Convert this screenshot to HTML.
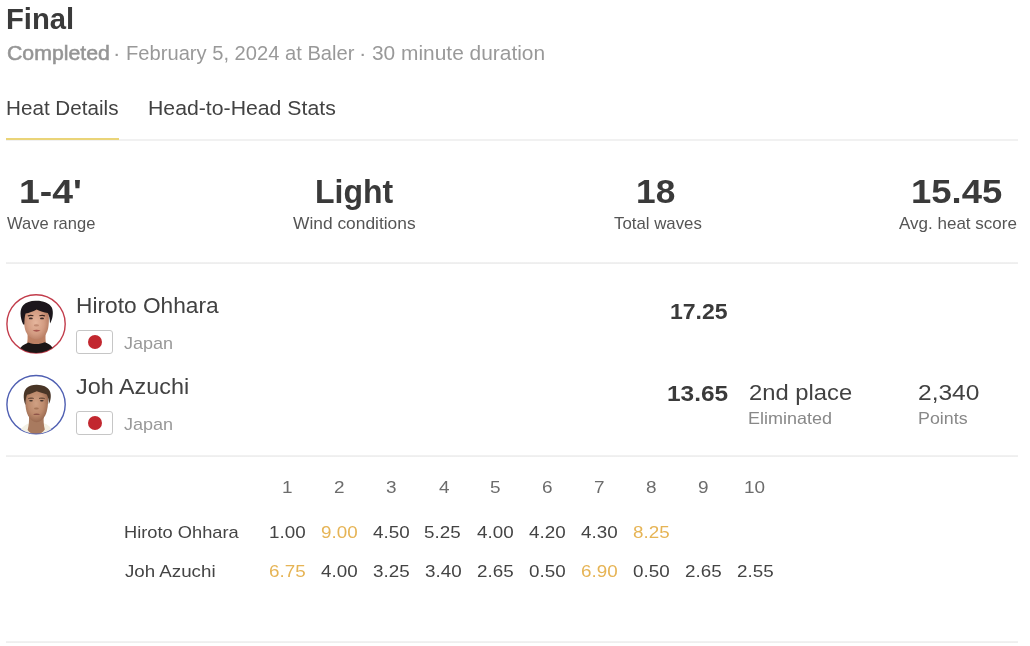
<!DOCTYPE html>
<html><head><meta charset="utf-8"><title>Final</title>
<style>
*{box-sizing:border-box;margin:0;padding:0}
html,body{width:1030px;height:646px;background:#fff;overflow:hidden}
body{font-family:"Liberation Sans",sans-serif;color:#333;position:relative}
.t{position:absolute;white-space:nowrap;line-height:normal;transform-origin:0 50%}
.line{position:absolute;height:2px;background:linear-gradient(#f2f2f2,#ededed);left:6px;width:1012px}
.flag{position:absolute;left:76px;width:37px;height:24px;border:1px solid #c6c6c6;border-radius:3px;background:#fff}
.flag i{position:absolute;left:10.6px;top:4.1px;width:14px;height:14px;border-radius:50%;background:#c2272f}
</style></head><body>
<div class="t" id="title" style="left:6.16px;top:3.36px;font-size:29.00px;font-weight:bold;color:#3a3a3a;transform:scaleX(1.0084)">Final</div>
<div class="t" id="sub1" style="left:6.95px;top:41.05px;font-size:20.50px;font-weight:normal;color:#959595;transform:scaleX(1.0371);-webkit-text-stroke:0.55px #959595">Completed</div>
<div class="t" id="sub2" style="left:112.57px;top:41.05px;font-size:20.50px;font-weight:normal;color:#999;transform:scaleX(1.0800)">·</div>
<div class="t" id="sub3" style="left:125.60px;top:41.05px;font-size:20.50px;font-weight:normal;color:#999;transform:scaleX(0.9828)">February 5, 2024 at Baler</div>
<div class="t" id="sub4" style="left:359.47px;top:41.05px;font-size:20.50px;font-weight:normal;color:#999;transform:scaleX(1.0800)">·</div>
<div class="t" id="sub5" style="left:371.71px;top:41.05px;font-size:20.50px;font-weight:normal;color:#999;transform:scaleX(1.0193)">30 minute duration</div>
<div class="t" id="tab1" style="left:5.99px;top:96.05px;font-size:20.50px;font-weight:normal;color:#424242;transform:scaleX(1.0073)">Heat Details</div>
<div class="t" id="tab2" style="left:147.99px;top:96.05px;font-size:20.50px;font-weight:normal;color:#424242;transform:scaleX(1.0363)">Head-to-Head Stats</div>
<div class="t" id="s1v" style="left:18.65px;top:172.83px;font-size:33.00px;font-weight:bold;color:#3a3a3a;transform:scaleX(1.1316)">1-4'</div>
<div class="t" id="s1l" style="left:6.50px;top:213.76px;font-size:16.40px;font-weight:normal;color:#555;transform:scaleX(1.0063)">Wave range</div>
<div class="t" id="s2v" style="left:314.64px;top:174.37px;font-size:32.30px;font-weight:bold;color:#3a3a3a;transform:scaleX(0.9905)">Light</div>
<div class="t" id="s2l" style="left:292.99px;top:213.76px;font-size:16.40px;font-weight:normal;color:#555;transform:scaleX(1.0595)">Wind conditions</div>
<div class="t" id="s3v" style="left:636.47px;top:172.83px;font-size:33.00px;font-weight:bold;color:#3a3a3a;transform:scaleX(1.0694)">18</div>
<div class="t" id="s3l" style="left:614.02px;top:213.76px;font-size:16.40px;font-weight:normal;color:#555;transform:scaleX(1.0263)">Total waves</div>
<div class="t" id="s4v" style="left:911.36px;top:172.83px;font-size:33.00px;font-weight:bold;color:#3a3a3a;transform:scaleX(1.1041)">15.45</div>
<div class="t" id="s4l" style="left:899.43px;top:213.76px;font-size:16.40px;font-weight:normal;color:#555;transform:scaleX(1.0383)">Avg. heat score</div>
<div class="t" id="n1" style="left:76.03px;top:292.89px;font-size:22.55px;font-weight:normal;color:#424242;transform:scaleX(1.0073)">Hiroto Ohhara</div>
<div class="t" id="c1" style="left:123.89px;top:332.93px;font-size:17.42px;font-weight:normal;color:#999;transform:scaleX(1.0365)">Japan</div>
<div class="t" id="n2" style="left:76.49px;top:373.89px;font-size:22.55px;font-weight:normal;color:#424242;transform:scaleX(1.0373)">Joh Azuchi</div>
<div class="t" id="c2" style="left:123.89px;top:413.93px;font-size:17.42px;font-weight:normal;color:#999;transform:scaleX(1.0365)">Japan</div>
<div class="t" id="sc1" style="left:670.47px;top:299.19px;font-size:22.00px;font-weight:bold;color:#3a3a3a;transform:scaleX(1.0471)">17.25</div>
<div class="t" id="sc2" style="left:666.57px;top:380.69px;font-size:22.00px;font-weight:bold;color:#3a3a3a;transform:scaleX(1.1113)">13.65</div>
<div class="t" id="pl" style="left:748.62px;top:379.89px;font-size:22.55px;font-weight:normal;color:#424242;transform:scaleX(1.0547)">2nd place</div>
<div class="t" id="el" style="left:747.86px;top:409.19px;font-size:16.91px;font-weight:normal;color:#888;transform:scaleX(1.0631)">Eliminated</div>
<div class="t" id="pt" style="left:918.10px;top:379.89px;font-size:22.55px;font-weight:normal;color:#424242;transform:scaleX(1.0885)">2,340</div>
<div class="t" id="ptl" style="left:917.69px;top:409.19px;font-size:16.91px;font-weight:normal;color:#888;transform:scaleX(1.0543)">Points</div>
<div class="t" id="tn1" style="left:123.90px;top:521.83px;font-size:17.42px;font-weight:normal;color:#444;transform:scaleX(1.0492)">Hiroto Ohhara</div>
<div class="t" id="tn2" style="left:125.15px;top:560.63px;font-size:17.42px;font-weight:normal;color:#444;transform:scaleX(1.0757)">Joh Azuchi</div>
<div class="t" id="h0" style="left:281.58px;top:478.49px;font-size:16.91px;font-weight:normal;color:#6c6c6c;transform:scaleX(1.1200)">1</div>
<div class="t" id="h1" style="left:334.17px;top:478.49px;font-size:16.91px;font-weight:normal;color:#6c6c6c;transform:scaleX(1.1200)">2</div>
<div class="t" id="h2" style="left:385.78px;top:478.49px;font-size:16.91px;font-weight:normal;color:#6c6c6c;transform:scaleX(1.1200)">3</div>
<div class="t" id="h3" style="left:438.62px;top:478.49px;font-size:16.91px;font-weight:normal;color:#6c6c6c;transform:scaleX(1.1200)">4</div>
<div class="t" id="h4" style="left:490.22px;top:478.49px;font-size:16.91px;font-weight:normal;color:#6c6c6c;transform:scaleX(1.1200)">5</div>
<div class="t" id="h5" style="left:542.48px;top:478.49px;font-size:16.91px;font-weight:normal;color:#6c6c6c;transform:scaleX(1.1200)">6</div>
<div class="t" id="h6" style="left:594.12px;top:478.49px;font-size:16.91px;font-weight:normal;color:#6c6c6c;transform:scaleX(1.1200)">7</div>
<div class="t" id="h7" style="left:646.28px;top:478.49px;font-size:16.91px;font-weight:normal;color:#6c6c6c;transform:scaleX(1.1200)">8</div>
<div class="t" id="h8" style="left:697.83px;top:478.49px;font-size:16.91px;font-weight:normal;color:#6c6c6c;transform:scaleX(1.1200)">9</div>
<div class="t" id="h9" style="left:744.39px;top:478.49px;font-size:16.91px;font-weight:normal;color:#6c6c6c;transform:scaleX(1.1200)">10</div>
<div class="t" id="a0" style="left:268.93px;top:521.83px;font-size:17.42px;font-weight:normal;color:#444;transform:scaleX(1.0800)">1.00</div>
<div class="t" id="a1" style="left:321.03px;top:521.83px;font-size:17.42px;font-weight:normal;color:#e6b455;transform:scaleX(1.0800)">9.00</div>
<div class="t" id="a2" style="left:373.23px;top:521.83px;font-size:17.42px;font-weight:normal;color:#444;transform:scaleX(1.0800)">4.50</div>
<div class="t" id="a3" style="left:424.42px;top:521.83px;font-size:17.42px;font-weight:normal;color:#444;transform:scaleX(1.0800)">5.25</div>
<div class="t" id="a4" style="left:477.23px;top:521.83px;font-size:17.42px;font-weight:normal;color:#444;transform:scaleX(1.0800)">4.00</div>
<div class="t" id="a5" style="left:529.23px;top:521.83px;font-size:17.42px;font-weight:normal;color:#444;transform:scaleX(1.0800)">4.20</div>
<div class="t" id="a6" style="left:581.23px;top:521.83px;font-size:17.42px;font-weight:normal;color:#444;transform:scaleX(1.0800)">4.30</div>
<div class="t" id="a7" style="left:632.78px;top:521.83px;font-size:17.42px;font-weight:normal;color:#e6b455;transform:scaleX(1.0800)">8.25</div>
<div class="t" id="b0" style="left:268.50px;top:560.63px;font-size:17.42px;font-weight:normal;color:#e6b455;transform:scaleX(1.0800)">6.75</div>
<div class="t" id="b1" style="left:321.23px;top:560.63px;font-size:17.42px;font-weight:normal;color:#444;transform:scaleX(1.0800)">4.00</div>
<div class="t" id="b2" style="left:372.91px;top:560.63px;font-size:17.42px;font-weight:normal;color:#444;transform:scaleX(1.0800)">3.25</div>
<div class="t" id="b3" style="left:425.05px;top:560.63px;font-size:17.42px;font-weight:normal;color:#444;transform:scaleX(1.0800)">3.40</div>
<div class="t" id="b4" style="left:477.06px;top:560.63px;font-size:17.42px;font-weight:normal;color:#444;transform:scaleX(1.0800)">2.65</div>
<div class="t" id="b5" style="left:528.96px;top:560.63px;font-size:17.42px;font-weight:normal;color:#444;transform:scaleX(1.0800)">0.50</div>
<div class="t" id="b6" style="left:580.74px;top:560.63px;font-size:17.42px;font-weight:normal;color:#e6b455;transform:scaleX(1.0800)">6.90</div>
<div class="t" id="b7" style="left:632.96px;top:560.63px;font-size:17.42px;font-weight:normal;color:#444;transform:scaleX(1.0800)">0.50</div>
<div class="t" id="b8" style="left:685.06px;top:560.63px;font-size:17.42px;font-weight:normal;color:#444;transform:scaleX(1.0800)">2.65</div>
<div class="t" id="b9" style="left:737.06px;top:560.63px;font-size:17.42px;font-weight:normal;color:#444;transform:scaleX(1.0800)">2.55</div>
<div class="line" style="top:139px;height:2px;background:#f1f1f1"></div>
<div style="position:absolute;left:6px;top:138px;width:113px;height:2px;background:#ead478"></div>
<div class="line" style="top:262px"></div>
<div class="line" style="top:455px"></div>
<div class="line" style="top:641px"></div>
<div class="flag" style="top:330px"><i></i></div>
<div class="flag" style="top:411px"><i></i></div>
<svg id="av1" style="position:absolute;left:4px;top:292px" width="64" height="64" viewBox="4 292 64 64">
<defs>
<clipPath id="cp1"><circle cx="36.05" cy="323.9" r="29"/></clipPath>
<filter id="bl1" x="-10%" y="-10%" width="120%" height="120%"><feGaussianBlur stdDeviation="0.6"/></filter>
<radialGradient id="sk1" cx="0.47" cy="0.5" r="0.62"><stop offset="0" stop-color="#e6b69d"/><stop offset="0.55" stop-color="#d39c82"/><stop offset="1" stop-color="#ad7258"/></radialGradient>
</defs>
<circle cx="36.05" cy="323.9" r="29.15" fill="#fff" stroke="#c23c4b" stroke-width="1.4"/>
<g clip-path="url(#cp1)" filter="url(#bl1)">

<path d="M27.4 332 C27.8 337 27.6 341 27 343.4 C31 346.6 41.5 346.6 46 343.2 C45.4 340 45.4 336 45.8 332 Z" fill="#bd8064"/>
<path d="M17.5 355 C18.5 348 22.5 344.6 28.6 342.4 C33 344.6 40 344.6 44.6 342.2 C50.5 344.2 54 347.2 55 355 Z" fill="#1a1718"/>
<path d="M24.2 312 C23.6 320 24 327 25.8 331.6 C28 336.6 32.4 339.4 36.6 339.4 C41 339.4 45.2 336.8 47.2 331.6 C48.9 327 49.2 320 48.6 312 C46 304 27 304 24.2 312 Z" fill="url(#sk1)"/>
<path d="M23.2 324.5 C20 317 19.4 309.5 23.2 305.3 C26 302.1 31 300.5 36.5 300.7 C43.2 300.7 49.4 303 51.8 307.5 C53.8 312 52.8 319 50 323.6 C49.8 319.5 49.4 315.6 47.8 313 C44 312.2 40.4 311.2 36.6 309.4 C33 311.4 29 312.8 25.6 313.4 C24.6 316 24.4 320.5 24.4 324.4 Z" fill="#1c191a"/>
<path d="M27.8 316 C29.5 315.2 31.5 315.2 33.4 315.8 M39.4 315.8 C41.4 315.2 43.4 315.2 45 316" stroke="#3a2620" stroke-width="1.1" fill="none"/>
<ellipse cx="30.8" cy="318.4" rx="2" ry="0.9" fill="#3b2a26"/><ellipse cx="42" cy="318.4" rx="2" ry="0.9" fill="#3b2a26"/>
<ellipse cx="36.4" cy="325.4" rx="2.6" ry="1.1" fill="#c18a72"/>
<path d="M32.6 330.6 C35 329.6 38 329.6 40.6 330.6 C38 332 35 332 32.6 330.6Z" fill="#a8564f"/>
</g>
</svg>
<svg id="av2" style="position:absolute;left:4px;top:373px" width="64" height="64" viewBox="4 373 64 64">
<defs>
<clipPath id="cp2"><circle cx="36.05" cy="404.6" r="29"/></clipPath>
<radialGradient id="sk2" cx="0.47" cy="0.45" r="0.62"><stop offset="0" stop-color="#cfa083"/><stop offset="0.55" stop-color="#bd8a6c"/><stop offset="1" stop-color="#8e5f48"/></radialGradient>
</defs>
<circle cx="36.05" cy="404.6" r="29.15" fill="#fff" stroke="#4f5fb2" stroke-width="1.4"/>
<g clip-path="url(#cp2)" filter="url(#bl1)">
<path d="M19 437 C19.5 430 22 426.4 28.4 423.6 L44.6 423.4 C50.4 425.6 52.6 429.4 53.2 437 Z" fill="#f3f0e4"/>
<path d="M29 416 C29.2 421 28.8 426 27.6 430 C30 433.4 33 434.6 36.2 434.6 C39.6 434.6 42.6 433 44.8 429.6 C43.6 425 43.4 420 43.8 416 Z" fill="#a87a5e"/>
<path d="M25.4 394 C24.8 403 25.6 410.6 28 415.6 C30.5 420.2 33.5 422.2 36.4 422.2 C39.6 422.2 42.8 420.2 45.2 415.6 C47.8 410.6 48.4 402.6 48 394 C45 386 28 386 25.4 394 Z" fill="url(#sk2)"/>
<path d="M25.2 404.4 C23 398 23.2 391.4 26.6 388 C29.5 385.2 33 384.6 37 384.7 C42.6 384.8 47.8 386.8 49.8 391 C51.6 395 50.8 400.8 48.8 404 C48.8 400 48.2 396.8 46.8 394.4 C43 393.2 39.5 392.4 36.8 391.2 C33.5 392.8 30 394 27 394.8 C25.8 397.5 25.6 401 25.6 404.4 Z" fill="#4a3628"/>
<path d="M28.4 398.6 C30 398 32 398 33.6 398.4 M39.2 398.4 C41 398 43 398 44.6 398.6" stroke="#4a3226" stroke-width="1" fill="none"/>
<ellipse cx="31" cy="400.8" rx="1.9" ry="0.8" fill="#40302a"/><ellipse cx="41.8" cy="400.8" rx="1.9" ry="0.8" fill="#40302a"/>
<ellipse cx="36.4" cy="408.6" rx="2.4" ry="1" fill="#a67558"/>
<path d="M33 414.2 C35 413.4 38 413.4 40.2 414.2 C38 415.4 35 415.4 33 414.2Z" fill="#8f5549"/>
</g>
</svg>

</body></html>
